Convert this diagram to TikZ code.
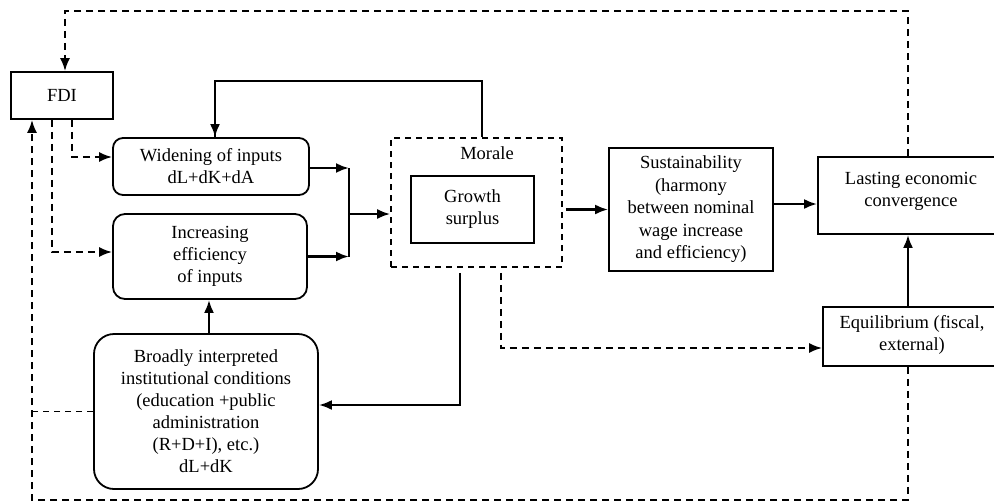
\documentclass[tikz,border=0pt]{standalone}
\usepackage{fontspec}
\setmainfont{Liberation Serif}
\usetikzlibrary{arrows.meta,calc}
\begin{document}
\begin{tikzpicture}[x=1pt,y=-1pt,
  txt/.style={align=center, inner sep=0pt, font=\fontsize{18.5}{22}\selectfont},
  box/.style={txt, draw, line width=1.8pt},
  rbox/.style={box, rounded corners=#1},
  dbox/.style={txt, draw, line width=1.6pt, dash pattern=on 6pt off 5pt},
  sarrow/.style={line width=2.4pt, -{Latex[length=13pt,width=10pt]}},
  sline/.style={line width=2.2pt},
  darrow/.style={line width=2pt, dash pattern=on 7pt off 5pt, -{Latex[length=13pt,width=10pt]}},
  tdline/.style={line width=1.6pt, dash pattern=on 6pt off 5pt}
]
\useasboundingbox (0,0) rectangle (994,501);

% nodes
\node[box, minimum width=102pt, minimum height=47pt] (fdi) at (62,95.5) {FDI};
\node[rbox=10pt, minimum width=196pt, minimum height=57pt] (widen) at (211,166.5) {Widening of inputs\\dL+dK+dA};
\node[rbox=12pt, minimum width=194pt, minimum height=85pt] (incr) at (210,256.5) {Increasing\\efficiency\\of inputs};
\node[dbox, minimum width=171pt, minimum height=129pt] (morale) at (476.5,202.5) {};
\node[txt] (moraletxt) at (487,153) {Morale};
\node[box, minimum width=123pt, minimum height=67pt] (growth) at (472.5,209.5) {Growth\\surplus};
\node[box, minimum width=164pt, minimum height=123pt, font=\fontsize{18.5}{22.5}\selectfont] (sust) at (691,209.5) {Sustainability\\(harmony\\between nominal\\wage increase\\and efficiency)};
\node[box, minimum width=180pt, minimum height=77pt] (last) at (908,195.5) {};
\node[txt] (lasttxt) at (911,191) {Lasting economic\\convergence};
\node[box, minimum width=178pt, minimum height=59pt] (eq) at (912,336.5) {};
\node[txt] (eqtxt) at (912,335) {Equilibrium (fiscal,\\external)};
\node[rbox=20pt, minimum width=224pt, minimum height=155pt] (broad) at (206,411.5) {Broadly interpreted\\institutional conditions\\(education +public\\administration\\(R+D+I), etc.)\\dL+dK};

% helper coordinates
\coordinate (top) at (0,11);
\coordinate (bot) at (32,500);
\coordinate (jn) at (349,214);
\coordinate (fb) at (0,81);

% top dashed loop: lasting -> FDI
\draw[darrow] (last.north) -- (last.north |- top) -| ([xshift=3pt]fdi.north);
% FDI -> widening, increasing
\draw[darrow] ([xshift=10pt]fdi.south) |- ([yshift=9.5pt]widen.west);
\draw[darrow] ([xshift=-10pt]fdi.south) |- ([yshift=4.5pt]incr.west);
% bottom dashed loop: equilibrium/broad -> FDI
\draw[darrow] ([xshift=-4pt]eq.south) -- ([xshift=-4pt]eq.south |- bot) -- (bot) -- (bot |- fdi.south);
\draw[tdline] (broad.west) -- (broad.west -| bot);
% merge into morale
\draw[sarrow] ([yshift=-1.5pt]widen.east) -- ([yshift=-1.5pt]widen.east -| jn);
\draw[sarrow] (incr.east) -- (incr.east -| jn);
\draw[sline] ([yshift=-1.5pt]widen.east -| jn) -- (incr.east -| jn);
\draw[sarrow] (jn) -- (morale.west |- jn);
% feedback morale -> widening
\draw[sline] ([xshift=5.5pt]morale.north) -- ([xshift=5.5pt]morale.north |- fb) -| ([xshift=4pt]widen.north);
\draw[sarrow] ([xshift=4pt]widen.north |- fb) -- ([xshift=4pt]widen.north);
% morale -> sustainability -> lasting
\draw[sarrow] ([xshift=3pt]morale.east |- sust.west) -- (sust.west);
\draw[sarrow] ([yshift=5.5pt]sust.east) -- ([yshift=5.5pt]sust.east -| last.west);
% equilibrium -> lasting
\draw[sarrow] ([xshift=-4pt]eq.north) -- ([xshift=-4pt]eq.north |- last.south);
% morale -> broad
\draw[sarrow] ([xshift=-16.5pt,yshift=-5pt]morale.south) |- ([yshift=6.5pt]broad.east);
% broad -> increasing
\draw[sarrow] ([xshift=3pt]broad.north) -- ([xshift=3pt]broad.north |- incr.south);
% morale -> equilibrium
\draw[darrow] ([xshift=24.5pt,yshift=-5pt]morale.south) |- ([yshift=-11.5pt]eq.west);
\end{tikzpicture}
\end{document}
